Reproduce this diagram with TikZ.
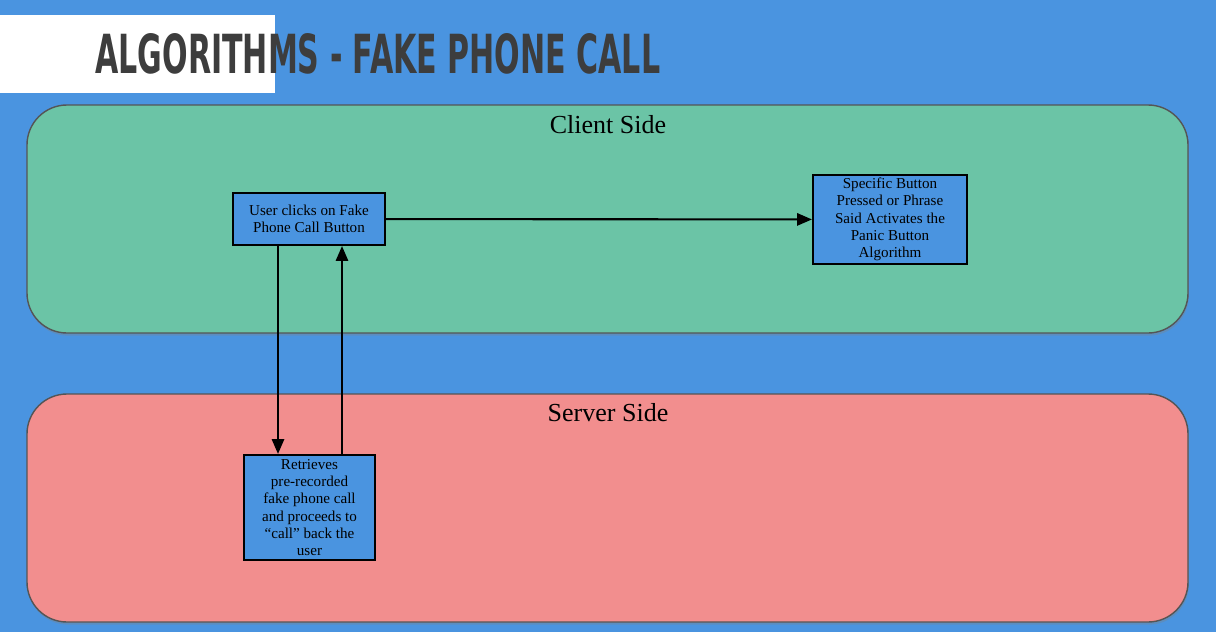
\documentclass[tikz,border=0pt]{standalone}
\usepackage{fontspec}
\setmainfont{Liberation Serif}
\newfontfamily\titlefont{DejaVu Sans}
\usetikzlibrary{arrows.meta,shadows}

\definecolor{slideblue}{HTML}{4A94E0}
\definecolor{clientgreen}{HTML}{6BC4A6}
\definecolor{serverred}{HTML}{F28E8E}
\definecolor{titlegray}{HTML}{3D3D3D}
\definecolor{edgegray}{HTML}{555555}

\begin{document}
\begin{tikzpicture}[
  x=0.02cm, y=-0.02cm,
  side/.style={draw=edgegray, thick, rounded corners=0.8cm,
    drop shadow={shadow xshift=0.5pt, shadow yshift=-1.5pt, opacity=0.35}},
  sidelabel/.style={font=\fontsize{14.8}{17}\selectfont},
  stepbox/.style={draw, line width=1.2pt, fill=slideblue, align=center,
    inner sep=2pt, font=\fontsize{8.6}{9.8}\selectfont},
  flow/.style={-{Triangle[length=8.5pt, width=7pt]}, line width=1.2pt}
]
\useasboundingbox (0,0) rectangle (1216,632);
\fill[slideblue] (0,0) rectangle (1216,632);

% title
\fill[white] (0,15) rectangle (275,93);
\node[anchor=south west, inner sep=0pt, text=titlegray] (title) at (95,75)
  {\resizebox{11.3cm}{0.8cm}{\titlefont\bfseries ALGORITHMS - FAKE PHONE CALL}};

% the two sides
\draw[side, fill=clientgreen] (27,105) rectangle (1188,333);
\draw[side, fill=serverred] (27,394) rectangle (1188,622);
\node[sidelabel] (client) at (608,125) {Client Side};
\node[sidelabel] (server) at (608,413) {Server Side};

% steps
\node[stepbox, minimum width=3.04cm, minimum height=1.04cm] (click) at (309,219)
  {User clicks on Fake\\Phone Call Button};
\node[stepbox, minimum width=3.08cm, minimum height=1.7cm] (panic) at (890,219.5)
  {Specific Button\\Pressed or Phrase\\Said Activates the\\Panic Button\\Algorithm};
\node[stepbox, minimum width=2.62cm, minimum height=2.1cm] (fetch) at (309.5,507.5)
  {Retrieves\\pre-recorded\\fake phone call\\and proceeds to\\``call'' back the\\user};

% connectors
\draw[flow] (click) -- (panic);
\draw[flow] (click.south -| 278,0) -- (fetch.north -| 278,0);
\draw[flow] (fetch.north -| 342,0) -- (click.south -| 342,0);

\end{tikzpicture}
\end{document}
